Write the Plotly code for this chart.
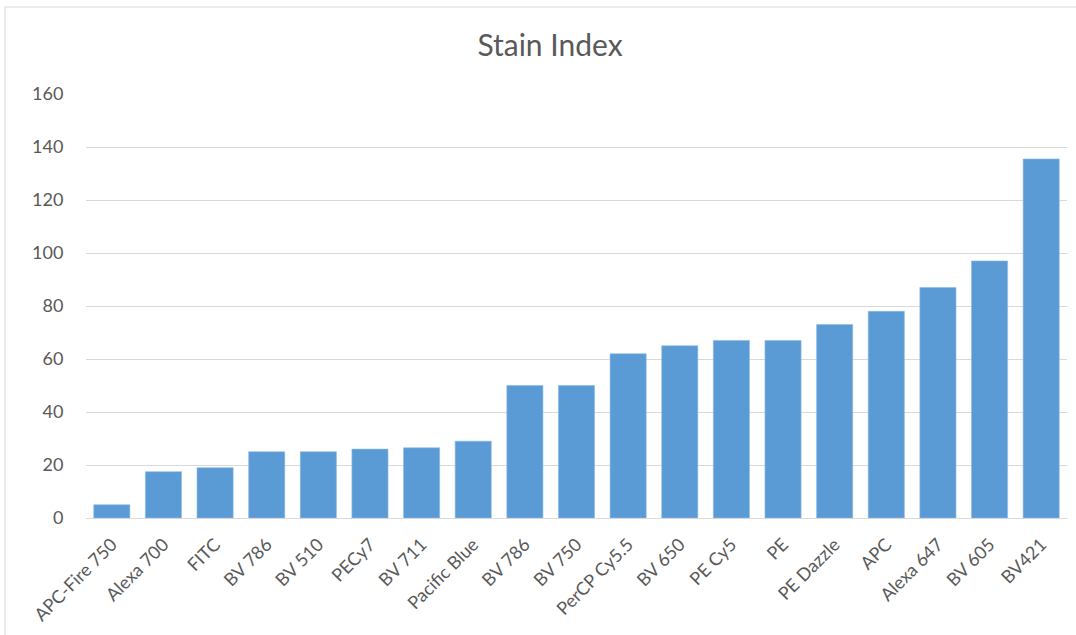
import plotly.graph_objects as go

categories = ["APC-Fire 750", "Alexa 700", "FITC", "BV 786", "BV 510", "PECy7", "BV 711",
              "Pacific Blue", "BV 786", "BV 750", "PerCP Cy5.5", "BV 650", "PE Cy5", "PE",
              "PE Dazzle", "APC", "Alexa 647", "BV 605", "BV421"]
stain_index = [5, 17.5, 19, 25, 25, 26, 26.5, 29, 50, 50, 62, 65, 67, 67, 73, 78, 87, 97, 135.5]
y_ticks = [0, 20, 40, 60, 80, 100, 120, 140, 160]

positions = list(range(len(categories)))

fig = go.Figure(go.Bar(
    x=positions, y=stain_index,
    marker=dict(color="#5b9bd5", line=dict(color="#8dbbe6", width=0.6)),
    hoverinfo="y",
))

W, H = 1076, 635
L, R, T, B = 86, 9, 94, 117
pw, ph = W - L - R, H - T - B
FONT = "Lato, Open Sans, sans-serif"

fig.update_layout(
    width=W, height=H,
    margin=dict(l=L, r=R, t=T, b=B),
    paper_bgcolor="white", plot_bgcolor="white",
    bargap=0.3,
    showlegend=False,
    font=dict(family=FONT, color="#595959", size=18),
    title=dict(text="Stain Index", x=550 / W, xanchor="center", y=1 - 45 / H, yanchor="middle",
               font=dict(size=30, color="#595959", family=FONT)),
    xaxis=dict(
        tickmode="array", tickvals=positions, ticktext=categories,
        tickangle=-45, showgrid=False, zeroline=False,
        showline=True, linecolor="#d9d9d9", linewidth=1,
        range=[-0.5, len(categories) - 0.5],
        ticks="outside", ticklen=8, tickcolor="rgba(0,0,0,0)",
        tickfont=dict(size=18, color="#595959", family=FONT),
    ),
    yaxis=dict(
        range=[0, 160], tickmode="array", tickvals=y_ticks,
        showgrid=True, gridcolor="#d9d9d9", gridwidth=1,
        zeroline=False, showline=False,
        ticks="outside", ticklen=18, tickcolor="rgba(0,0,0,0)",
        tickfont=dict(size=18, color="#595959", family=FONT),
    ),
    shapes=[
        dict(type="line", xref="paper", yref="paper",
             x0=(5 - L) / pw, x1=(5 - L) / pw, y0=(H - B - 7) / ph, y1=(H - B - 640) / ph,
             line=dict(color="#d9d9d9", width=1)),
        dict(type="line", xref="paper", yref="paper",
             x0=(5 - L) / pw, x1=(1080 - L) / pw, y0=(H - B - 7) / ph, y1=(H - B - 7) / ph,
             line=dict(color="#d9d9d9", width=1)),
    ],
)

fig.write_html("out.html")
